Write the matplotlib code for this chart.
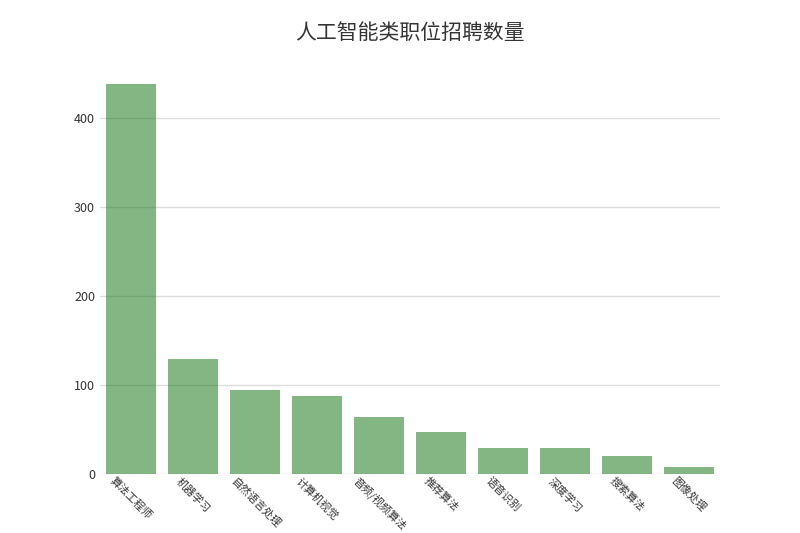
import matplotlib
matplotlib.use('Agg')
import matplotlib.pyplot as plt

plt.rcParams['font.family'] = ['Noto Sans CJK SC', 'DejaVu Sans']

jobs = ['算法工程师', '机器学习', '自然语言处理', '计算机视觉', '音频/视频算法',
        '推荐算法', '语音识别', '深度学习', '搜索算法', '图像处理']
counts = [439, 130, 95, 88, 65, 48, 30, 30, 21, 8]

fig = plt.figure(figsize=(8, 5.33), dpi=100)
ax = fig.add_subplot(111)

ax.yaxis.grid(True, color='#dcdcdc', linewidth=1, zorder=0)
ax.bar(range(len(jobs)), counts, width=0.8, color='#0b6e0b', alpha=0.5, zorder=2)

ax.set_xlim(-0.5, len(jobs) - 0.5)
ax.set_ylim(0, 461)
ax.set_yticks([0, 100, 200, 300, 400])
ax.set_xticks(range(len(jobs)))
ax.set_xticklabels(jobs, rotation=-45, fontsize=7.8, color='#333333')
ax.tick_params(axis='both', length=0, colors='#333333')
ax.tick_params(axis='y', labelsize=9)
ax.tick_params(axis='x', pad=1)
for s in ax.spines.values():
    s.set_visible(False)

ax.set_title('人工智能类职位招聘数量', fontsize=15, color='#333333', pad=18)

fig.savefig('out.png', dpi=100)
